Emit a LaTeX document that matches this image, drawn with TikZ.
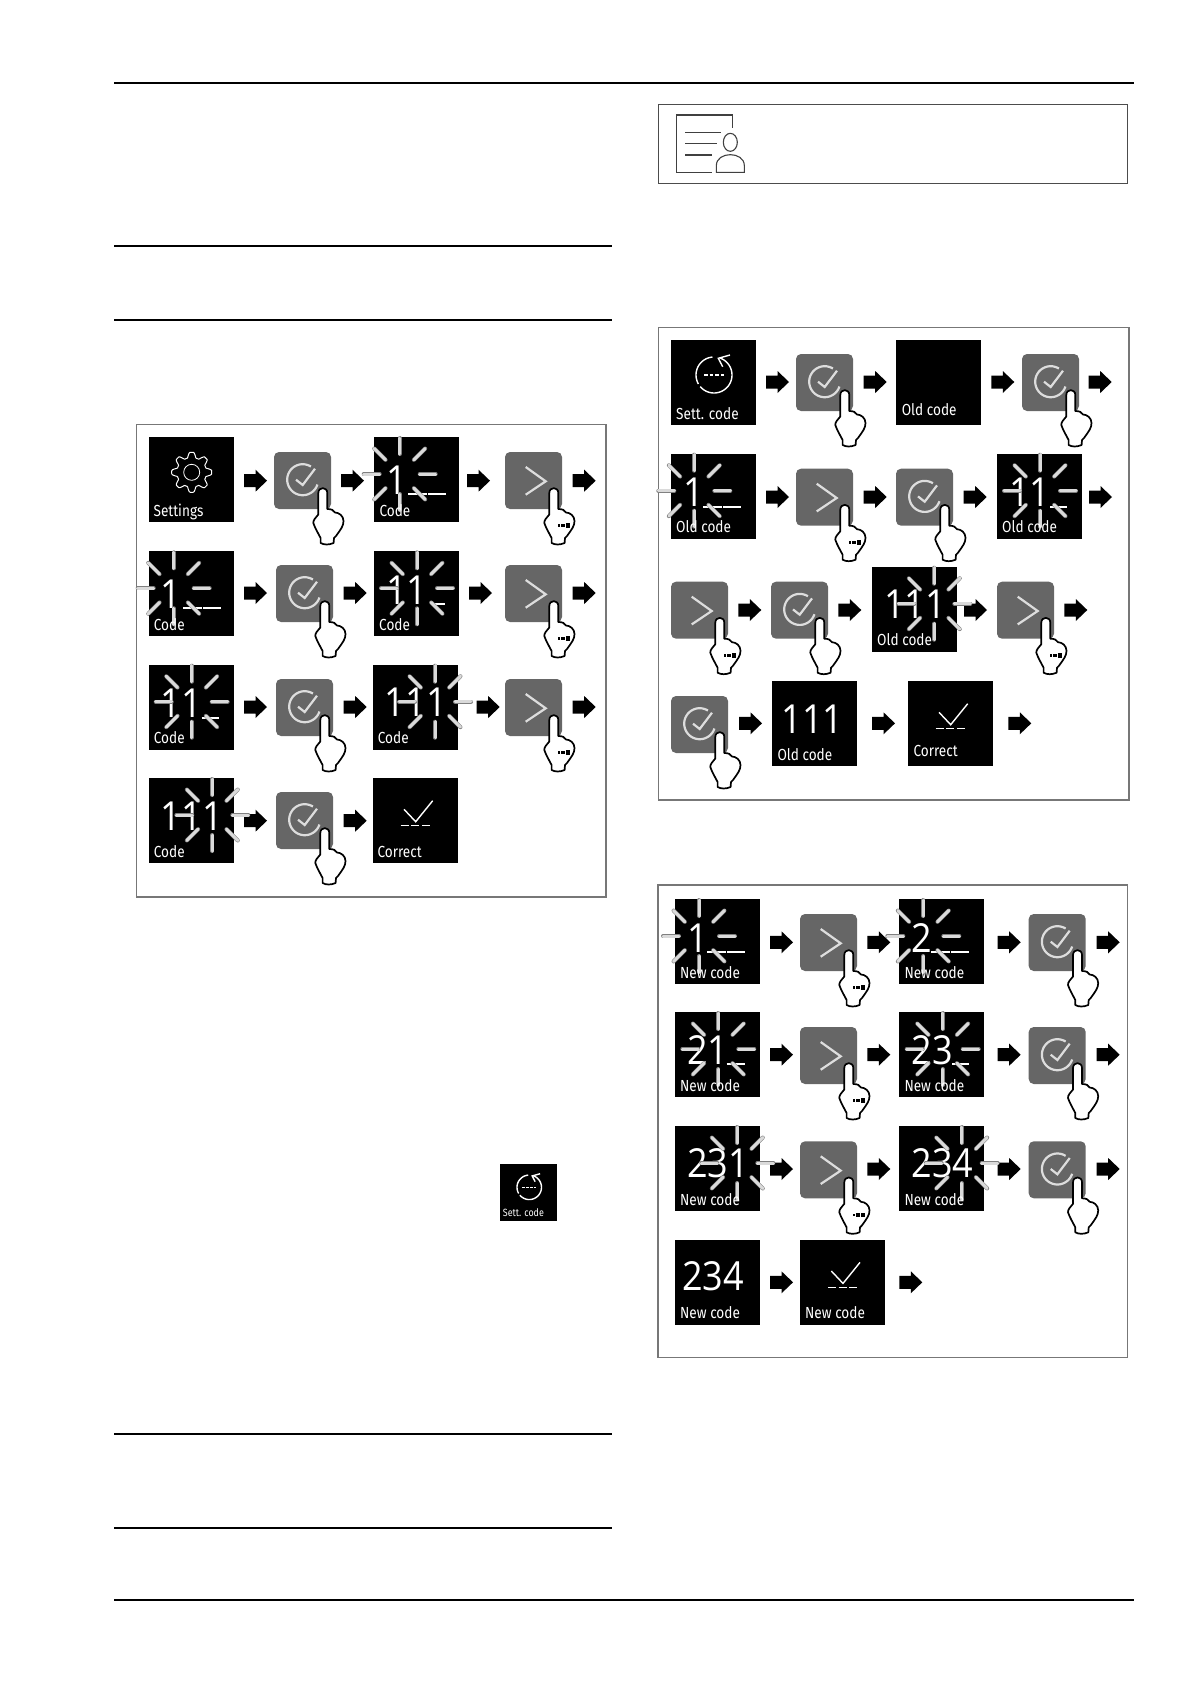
\documentclass[tikz,border=0pt]{standalone}
\usepackage{fontspec}
\usepackage{ifthen}
\newfontfamily\screenfont[FakeStretch=0.85]{Fira Sans}
\newfontfamily\digitfont[FakeStretch=0.9]{Open Sans}
\definecolor{buttongray}{HTML}{666666}
\definecolor{icongray}{HTML}{DDDDDD}
\definecolor{framegray}{HTML}{777777}
\definecolor{raygray}{HTML}{DADADA}
\def\rayinner{20}
\def\rayouter{36}
\def\raydrop{37}
\tikzset{
    screenbox/.style={fill=black, minimum size=85pt, inner sep=0pt, outer sep=0pt, anchor=north west},
    buttonbox/.style={fill=buttongray, rounded corners=5pt, minimum size=57pt, inner sep=0pt, outer sep=0pt, anchor=north west},
    screenlabel/.style={text=white, inner sep=0pt, anchor=base west, font=\screenfont\fontsize{16}{16}\selectfont},
    screendigits/.style={text=white, inner sep=0pt, anchor=base west, font=\digitfont\fontsize{40}{40}\selectfont},
    rayouterline/.style={draw=gray, line width=4pt, line cap=round},
    rayinnerline/.style={draw=raygray, line width=3pt, line cap=round},
    iconline/.style={draw=icongray, line width=2.2pt},
    screenicon/.style={draw=white, line width=1.4pt},
    fingerline/.style={draw=black, fill=white, line width=1.7pt, line join=round},
    panelframe/.style={draw=framegray, line width=1.1pt},
    pagerule/.style={draw=black, line width=1.2pt}
}
% block arrow, x is its left end and y its middle
\newcommand{\blockarrow}[2]{
    \fill[black] (#1,#2) +(0,-6.5) -- +(11.5,-6.5) -- +(11.5,-11) -- +(23,0) -- +(11.5,11) -- +(11.5,6.5) -- +(0,6.5) -- cycle;
}
\newcommand{\fingerpress}{
    \draw[fingerline] (46.6,91) -- (46.6,86) .. controls (44,81) and (41,76) .. (39.3,71)
        .. controls (39,68) and (42,65.5) .. (44.3,62.5) -- (44.3,41)
        .. controls (44.3,34.5) and (53.3,34.5) .. (53.3,41) -- (53.3,57)
        .. controls (57,57) and (60,58) .. (61,60.5)
        .. controls (65,60.5) and (69.5,64) .. (69.5,69)
        .. controls (69.5,74) and (67,77) .. (62,84) -- (60,86) -- (59.6,91)
        .. controls (55,93) and (50,93) .. (46.6,91) -- cycle;
}
\newcommand{\okbutton}[3]{
    \node[buttonbox] (#1) at (#2,#3) {};
    \begin{scope}[shift={(#2,#3)}]
        \draw[iconline] plot[domain=-58:-342, samples=50] ({28.7+15.5*cos(\x)},{27.7+15.5*sin(\x)});
        \draw[iconline] (22,27.7) -- (28.7,33) -- (41,16.7);
        \fingerpress
    \end{scope}
}
\newcommand{\nextbutton}[3]{
    \node[buttonbox] (#1) at (#2,#3) {};
    \begin{scope}[shift={(#2,#3)}]
        \draw[iconline] (20.7,15) -- (40.7,29.3) -- (20.7,42.7);
        \fingerpress
        \fill[black] (52.6,72.4) rectangle (55.2,75);
        \fill[black] (56.4,72) rectangle (59.6,75.2);
        \fill[black] (60.8,71.4) rectangle (65.2,75.8);
    \end{scope}
}
% name, x, y, label, label x, label y
\newcommand{\plainscreen}[6]{
    \node[screenbox] (#1) at (#2,#3) {};
    \node[screenlabel] (#1_label) at ([xshift=#5pt,yshift=-#6pt]#1.north west) {#4};
}
% name, x, y, label, digits, ray x, baseline, dashes
\newcommand{\blinkscreen}[8]{
    \node[screenbox] (#1) at (#2,#3) {};
    \node[screendigits] (#1_digits) at ([xshift=12pt,yshift=-#7pt]#1.north west) {#5};
    \ifthenelse{\equal{#8}{}}{}{
        \foreach \dashfrom/\dashto in {#8}{
            \draw[white, line width=2pt] ([xshift=\dashfrom pt,yshift=-#7pt]#1.north west) -- ([xshift=\dashto pt,yshift=-#7pt]#1.north west);
        }
    }
    \foreach \rayangle in {0, 45, 90, 135, 180, 225, 270, 315}{
        \draw[rayouterline] ({#2+#6+\rayinner*cos(\rayangle)},{#3+\raydrop+\rayinner*sin(\rayangle)}) -- ({#2+#6+\rayouter*cos(\rayangle)},{#3+\raydrop+\rayouter*sin(\rayangle)});
    }
    \foreach \rayangle in {0, 45, 90, 135, 180, 225, 270, 315}{
        \draw[rayinnerline] ({#2+#6+\rayinner*cos(\rayangle)},{#3+\raydrop+\rayinner*sin(\rayangle)}) -- ({#2+#6+\rayouter*cos(\rayangle)},{#3+\raydrop+\rayouter*sin(\rayangle)});
    }
    \node[screenlabel] (#1_label) at ([xshift=5pt,yshift=-79pt]#1.north west) {#4};
}
\newcommand{\donemark}[2]{
    \begin{scope}[shift={(#1,#2)}]
        \draw[screenicon] (31.3,31.3) -- (43,43.7) -- (60,22.7);
        \draw[screenicon] (28,47.7) -- (36,47.7);
        \draw[screenicon] (38.7,47.7) -- (46.7,47.7);
        \draw[screenicon] (49.3,47.7) -- (57.3,47.7);
    \end{scope}
}
\newcommand{\resetmark}{
    \draw[screenicon] plot[domain=265:150, samples=25] ({43+18*cos(\x)},{35+18*sin(\x)});
    \draw[screenicon] plot[domain=140:-70, samples=40] ({43+18*cos(\x)},{35+18*sin(\x)});
    \draw[screenicon] (59,15) -- (47.3,18.3) -- (51.7,26.7);
    \draw[screenicon] (33,35) -- (36.5,35);
    \draw[screenicon] (38.7,35) -- (42.2,35);
    \draw[screenicon] (44.4,35) -- (47.9,35);
    \draw[screenicon] (50,35) -- (52.7,35);
}
\begin{document}
\begin{tikzpicture}[x=1pt, y=-1pt]

\useasboundingbox (0,0) rectangle (1191,1684);

% Page rules
\draw[black, line width=2.6pt] (114,83) -- (1134,83);
\draw[black, line width=2.6pt] (114,1600) -- (1134,1600);
\foreach \ruley in {246, 320, 1434, 1528}{
    \draw[pagerule] (114,\ruley) -- (612,\ruley);
}

% Info box
\draw[draw=black!70, line width=0.9pt] (658,104.3) rectangle (1127.7,183);
\begin{scope}[shift={(650,95)}, x=0.3333pt, y=-0.3333pt]
    \draw[draw=black!75, line width=1.1pt] (185,232) -- (79,232) -- (79,60) -- (247,60) -- (247,98);
    \draw[draw=black!75, line width=1.1pt] (105,112) -- (213,112);
    \draw[draw=black!75, line width=1.1pt] (105,146) -- (202,146);
    \draw[draw=black!75, line width=1.1pt] (105,180) -- (186,180);
    \draw[draw=black!75, line width=1.1pt] (241,142) circle [x radius=21, y radius=27];
    \draw[draw=black!75, line width=1.1pt] (199,232) -- (199,212) .. controls (199,168) and (283,168) .. (283,212) -- (283,232) -- cycle;
\end{scope}

% Left panel
\draw[panelframe] (136.7,424.7) rectangle (606,897);

\blockarrow{244}{480.7}
\blockarrow{341}{480.7}
\blockarrow{467}{480.7}
\blockarrow{572.7}{480.7}
\plainscreen{settings}{148.7}{437}{Settings}{4.7}{79}
\draw[screenicon, line width=1pt] plot[smooth, domain=0:360, samples=145] ({191.7+(17.4+2.6*max(-1,min(1,1.5*cos(8*\x))))*cos(\x)},{472.3+(17.4+2.6*max(-1,min(1,1.5*cos(8*\x))))*sin(\x)});
\draw[screenicon, line width=0.8pt] (191.7,472.3) circle (8);
\okbutton{code_ok_a}{274}{452}
\blinkscreen{code_a}{374.3}{437}{Code}{1}{25.4}{57}{34/52.5,54/71.7}
\nextbutton{code_next_a}{505}{452}

\blockarrow{244}{593}
\blockarrow{343.7}{593}
\blockarrow{469}{593}
\blockarrow{572.7}{593}
\blinkscreen{code_b}{148.7}{551.3}{Code}{1}{25}{57}{34.7/53,54.5/72}
\okbutton{code_ok_b}{276}{565}
\blinkscreen{code_c}{374}{551.3}{Code}{11}{43}{53}{57.7/71}
\nextbutton{code_next_b}{505}{565}

\blockarrow{244}{707}
\blockarrow{343.7}{707}
\blockarrow{476.7}{707}
\blockarrow{572.7}{707}
\blinkscreen{code_d}{148.7}{664.7}{Code}{11}{43}{53}{53/70.7}
\okbutton{code_ok_c}{276}{679}
\blinkscreen{code_e}{372.7}{664.7}{Code}{111}{62.3}{52}{}
\nextbutton{code_next_c}{505}{679}

\blockarrow{244}{820.7}
\blockarrow{343.7}{820.7}
\blinkscreen{code_f}{148.7}{778}{Code}{111}{63.6}{52}{}
\okbutton{code_ok_d}{276}{792}
\plainscreen{correct_a}{372.7}{778}{Correct}{4.7}{79}
\donemark{372.7}{778}

% Small reset screen in the text
\node[screenbox, minimum size=57pt] (reset_small) at (500,1163.5) {};
\begin{scope}[shift={(500,1163.5)}, scale=0.68]
    \resetmark
\end{scope}
\node[screenlabel, font=\screenfont\fontsize{10.5}{10.5}\selectfont] (reset_small_label) at ([xshift=2.7pt,yshift=-53pt]reset_small.north west) {Sett. code};

% Old code panel
\draw[panelframe] (658.5,327.3) rectangle (1129,800);

\blockarrow{766}{382}
\blockarrow{863.7}{382}
\blockarrow{991.3}{382}
\blockarrow{1088.7}{382}
\plainscreen{reset}{671}{340}{Sett. code}{5}{79}
\begin{scope}[shift={(671,340)}]
    \resetmark
\end{scope}
\okbutton{old_ok_a}{796}{354}
\plainscreen{old_a}{896}{340}{Old code}{5.6}{75.7}
\okbutton{old_ok_b}{1022}{354}

\blockarrow{766}{497}
\blockarrow{863.7}{497}
\blockarrow{963.7}{497}
\blockarrow{1089}{497}
\blinkscreen{old_b}{671}{453.7}{Old code}{1}{23.3}{53}{32.3/50.5,52/69.7}
\nextbutton{old_next_a}{796}{468.7}
\okbutton{old_ok_c}{896}{468.7}
\blinkscreen{old_c}{997}{453.7}{Old code}{11}{43}{53}{53/70}

\blockarrow{738.3}{610}
\blockarrow{838.3}{610}
\blockarrow{964}{610}
\blockarrow{1064.3}{610}
\nextbutton{old_next_b}{671}{581.7}
\okbutton{old_ok_d}{771}{581.7}
\blinkscreen{old_d}{872}{566.7}{Old code}{111}{62.3}{52}{}
\nextbutton{old_next_c}{997}{581.7}

\blockarrow{739}{723.3}
\blockarrow{872}{723.3}
\blockarrow{1008.3}{723.3}
\okbutton{old_ok_e}{671}{696}
\plainscreen{old_e}{772.3}{681}{Old code}{5}{79}
\node[screendigits] (old_e_digits) at ([xshift=9pt,yshift=-52pt]old_e.north west) {111};
\plainscreen{correct_b}{907.7}{681}{Correct}{5.6}{75.7}
\donemark{907.7}{681}

% New code panel
\draw[panelframe] (658,885) rectangle (1127.7,1357.3);

\blockarrow{770}{942.3}
\blockarrow{867.3}{942.3}
\blockarrow{997.7}{942.3}
\blockarrow{1096.7}{942.3}
\blinkscreen{new_a}{675}{899}{New code}{1}{24}{53}{32/50.5,52/69.7}
\nextbutton{new_next_a}{800}{914}
\blinkscreen{new_b}{899.3}{899}{New code}{2}{24}{53}{32/50.5,52/69.7}
\okbutton{new_ok_a}{1028.7}{914}

\blockarrow{770}{1054.7}
\blockarrow{867.3}{1054.7}
\blockarrow{997.7}{1054.7}
\blockarrow{1096.7}{1054.7}
\blinkscreen{new_c}{675}{1012}{New code}{21}{43.3}{52}{51.7/69.7}
\nextbutton{new_next_b}{800}{1027}
\blinkscreen{new_d}{899.3}{1012}{New code}{23}{43.4}{52}{53/70}
\okbutton{new_ok_b}{1028.7}{1027}

\blockarrow{770}{1169}
\blockarrow{867.3}{1169}
\blockarrow{997.7}{1169}
\blockarrow{1096.7}{1169}
\blinkscreen{new_e}{675}{1126}{New code}{231}{62.3}{51}{}
\nextbutton{new_next_c}{800}{1141.3}
\blinkscreen{new_f}{899.3}{1126}{New code}{234}{62.4}{51}{}
\okbutton{new_ok_c}{1028.7}{1141.3}

\blockarrow{770}{1282.3}
\blockarrow{899.3}{1282.3}
\plainscreen{new_g}{675}{1239.7}{New code}{5}{79}
\node[screendigits] (new_g_digits) at ([xshift=7pt,yshift=-51pt]new_g.north west) {234};
\plainscreen{new_h}{800}{1239.7}{New code}{5}{79}
\donemark{800}{1239.7}

\end{tikzpicture}
\end{document}
